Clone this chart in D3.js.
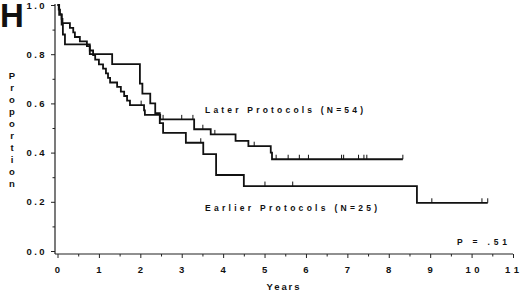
<!DOCTYPE html>
<html>
<head>
<meta charset="utf-8">
<script src="https://cdn.jsdelivr.net/npm/d3@7"></script>
<style>
  body { margin: 0; background: #fff; }
  text { font-family: "Liberation Sans", Arial, sans-serif; font-weight: bold; fill: #111; }
</style>
</head>
<body>
<div id="chart"></div>
<script>
/* Kaplan-Meier curves, later vs earlier protocols (panel H). */

// step data
const laterTime = [0, 0.03, 0.06, 0.10, 0.12, 0.30, 0.38, 0.42, 0.54, 0.71, 0.78, 0.86, 0.91, 1.00, 1.10, 1.17, 1.22, 1.27, 1.44, 1.53, 1.61, 1.68, 1.75, 2.09, 2.11, 2.48, 3.30, 3.70, 4.30, 4.61, 5.15, 5.18, 8.34];
const laterProp = [1.0, 0.981, 0.963, 0.944, 0.926, 0.907, 0.889, 0.870, 0.852, 0.833, 0.815, 0.796, 0.778, 0.759, 0.741, 0.722, 0.704, 0.685, 0.667, 0.648, 0.630, 0.611, 0.593, 0.572, 0.553, 0.535, 0.495, 0.474, 0.448, 0.426, 0.400, 0.373, 0.373];
const laterCensor = [2.02, 2.55, 3.0, 3.27, 3.51, 3.80, 4.75, 5.28, 5.57, 5.84, 6.06, 6.86, 6.91, 7.27, 7.40, 7.47, 8.34];

const earlierTime = [0, 0.04, 0.10, 0.13, 0.18, 0.78, 1.32, 1.99, 2.05, 2.24, 2.36, 2.47, 2.55, 3.10, 3.52, 3.83, 4.50, 8.68, 10.39];
const earlierProp = [1.0, 0.96, 0.92, 0.88, 0.84, 0.80, 0.76, 0.68, 0.64, 0.60, 0.56, 0.52, 0.48, 0.44, 0.394, 0.309, 0.264, 0.196, 0.196];
const earlierCensor = [3.46, 5.01, 5.68, 9.04, 10.25, 10.39];

const xTicks = [0, 1, 2, 3, 4, 5, 6, 7, 8, 9, 10, 11];
const yTicks = [0, 0.2, 0.4, 0.6, 0.8, 1.0];
const yLabels = ["0.0", "0.2", "0.4", "0.6", "0.8", "1.0"];

const width = 520, height = 292;

const svg = d3.select("#chart")
  .append("svg")
  .attr("width", width)
  .attr("height", height);

const x = d3.scaleLinear().domain([0, 11]).range([57.5, 513]);
const y = d3.scaleLinear().domain([0, 1]).range([251, 5]);

const axisY = 55, axisX = 254;

// y axis
const gy = svg.append("g")
  .attr("transform", `translate(${axisY},0)`)
  .call(d3.axisLeft(y).tickValues(d3.range(0, 1.01, 0.1)).tickFormat("").tickSizeOuter(0)
    .tickSize(4));
gy.select(".domain").remove();
gy.selectAll(".tick line")
  .attr("x2", (d, i) => i % 2 ? -2.5 : -4)
  .attr("stroke", "#222");

svg.append("line")
  .attr("x1", axisY).attr("x2", axisY)
  .attr("y1", y(1) - 1).attr("y2", axisX)
  .attr("stroke", "#222").attr("stroke-width", 1.2);

svg.selectAll(".ylab")
  .data(yTicks)
  .join("text")
  .attr("class", "ylab")
  .attr("x", 26.5)
  .attr("y", d => y(d) + 3.5)
  .attr("font-size", 9.5)
  .attr("textLength", 18)
  .attr("lengthAdjust", "spacing")
  .text((d, i) => yLabels[i]);

// x axis
const gx = svg.append("g")
  .attr("transform", `translate(0,${axisX})`)
  .call(d3.axisBottom(x).tickValues(d3.range(0, 11.01, 0.5)).tickFormat("").tickSizeOuter(0)
    .tickSize(4));
gx.select(".domain").remove();
gx.selectAll(".tick line")
  .attr("y2", (d, i) => i % 2 ? 2.5 : 4)
  .attr("stroke", "#222");

svg.append("line")
  .attr("x1", axisY).attr("x2", x(11))
  .attr("y1", axisX).attr("y2", axisX)
  .attr("stroke", "#222").attr("stroke-width", 1.2);

svg.selectAll(".xlab")
  .data(xTicks)
  .join("text")
  .attr("class", "xlab")
  .attr("x", d => d >= 10 ? x(d) - 7 + (d == 11 ? -1 : 1) : x(d))
  .attr("y", 272.5)
  .attr("font-size", 9.5)
  .attr("text-anchor", d => d >= 10 ? "start" : "middle")
  .each(function(d) {
    if (d >= 10) d3.select(this).attr("textLength", 14).attr("lengthAdjust", "spacing");
  })
  .text(d => d);

// axis titles
svg.append("text")
  .attr("x", 266.5).attr("y", 290)
  .attr("font-size", 9.5)
  .attr("textLength", 33).attr("lengthAdjust", "spacing")
  .text("Years");

svg.selectAll(".ytitle")
  .data("Proportion".split(""))
  .join("text")
  .attr("class", "ytitle")
  .attr("x", 12)
  .attr("y", (d, i) => 78.5 + i * 12)
  .attr("text-anchor", "middle")
  .attr("font-size", 9.5)
  .text(d => d);

svg.append("text")
  .attr("x", 0).attr("y", 27)
  .attr("font-size", 33)
  .text("H");

// curves
const line = d3.line()
  .x(d => x(d[0]))
  .y(d => y(d[1]))
  .curve(d3.curveStepAfter);

function drawCurve(times, props, censor) {
  const pts = times.map((t, i) => [t, props[i]]);
  svg.append("path")
    .datum(pts)
    .attr("d", line)
    .attr("fill", "none")
    .attr("stroke", "#111")
    .attr("stroke-width", 1.8);

  const at = t => props[d3.bisectRight(times, t) - 1];
  svg.selectAll(null)
    .data(censor)
    .join("line")
    .attr("x1", d => x(d)).attr("x2", d => x(d))
    .attr("y1", d => y(at(d))).attr("y2", d => y(at(d)) - 4.5)
    .attr("stroke", "#111")
    .attr("stroke-width", 1);
}

drawCurve(laterTime, laterProp, laterCensor);
drawCurve(earlierTime, earlierProp, earlierCensor);

// labels
svg.append("text")
  .attr("x", 205).attr("y", 112.5)
  .attr("font-size", 8.5)
  .attr("textLength", 158).attr("lengthAdjust", "spacing")
  .text("Later Protocols (N=54)");

svg.append("text")
  .attr("x", 205).attr("y", 211)
  .attr("font-size", 8.5)
  .attr("textLength", 172).attr("lengthAdjust", "spacing")
  .text("Earlier Protocols (N=25)");

svg.append("text")
  .attr("x", 457).attr("y", 245)
  .attr("font-size", 8.5)
  .attr("textLength", 50).attr("lengthAdjust", "spacing")
  .text("P = .51");
</script>
</body>
</html>
